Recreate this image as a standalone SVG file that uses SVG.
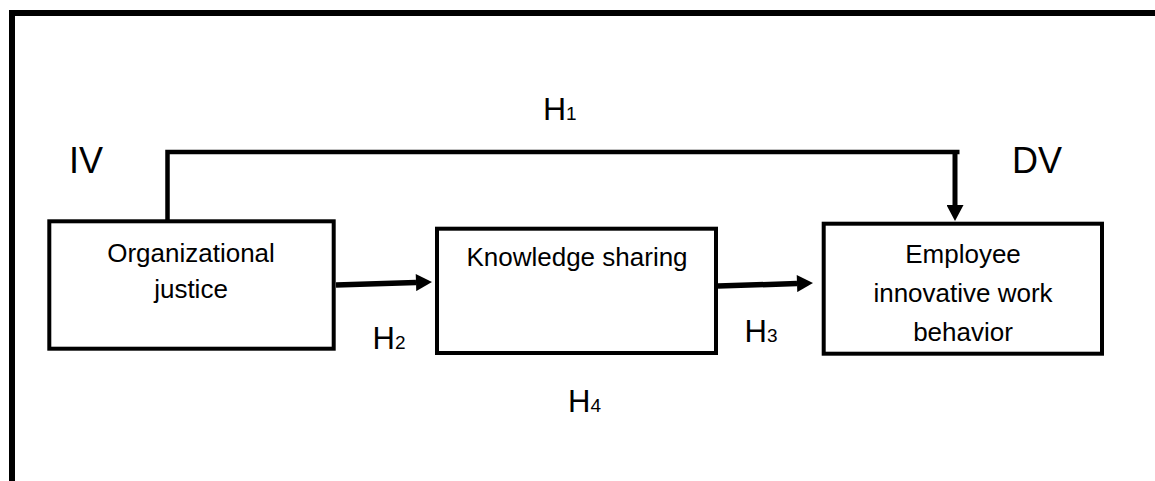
<svg xmlns="http://www.w3.org/2000/svg" width="1155" height="481" viewBox="0 0 1155 481">
<style>
.box{fill:#fff;stroke:#000;stroke-width:4}
.t{font-family:"Liberation Sans",Arial,sans-serif;font-size:26px;fill:#000;text-anchor:middle}
.lbl{font-family:"Liberation Sans",Arial,sans-serif;fill:#000}
.sub{font-size:19px}
.ln{fill:none;stroke:#000}
</style>
<defs>
<marker id="ah" markerUnits="userSpaceOnUse" markerWidth="17" markerHeight="17" refX="0" refY="8.5" orient="auto" viewBox="0 0 16 17">
<path d="M0,0 L16,8.5 L0,17 z" fill="#000"/>
</marker>
</defs>
<rect width="1155" height="481" fill="#fff"/>
<path class="ln" d="M12,481 V13 H1155" stroke-width="6"/>
<g id="connectors">
<path class="ln" d="M167.5,221 V152 H959.5" stroke-width="4.5"/>
<path class="ln" d="M955,150 V205" stroke-width="5" marker-end="url(#ah)"/>
<path class="ln" d="M336,285 L416,282.6" stroke-width="5.5" marker-end="url(#ah)"/>
<path class="ln" d="M718,286 L797,283.6" stroke-width="5.5" marker-end="url(#ah)"/>
</g>
<g id="node-oj">
<rect class="box" x="49.3" y="221.3" width="284.4" height="127.4"/>
<text class="t" x="191" y="262">Organizational</text>
<text class="t" x="191" y="298">justice</text>
</g>
<g id="node-ks">
<rect class="box" x="437" y="228.7" width="279" height="124.3"/>
<text class="t" x="577" y="266">Knowledge sharing</text>
</g>
<g id="node-eiwb">
<rect class="box" x="823.7" y="223.7" width="278.3" height="130"/>
<text class="t" x="963" y="263">Employee</text>
<text class="t" x="963" y="302">innovative work</text>
<text class="t" x="963" y="341">behavior</text>
</g>
<g id="labels">
<text class="lbl" x="69" y="173" font-size="36">IV</text>
<text class="lbl" x="1012" y="173" font-size="36">DV</text>
<text class="lbl" x="543" y="120" font-size="32">H<tspan class="sub">1</tspan></text>
<text class="lbl" x="372.5" y="349" font-size="31">H<tspan class="sub">2</tspan></text>
<text class="lbl" x="744.5" y="342" font-size="31">H<tspan class="sub">3</tspan></text>
<text class="lbl" x="568" y="411.5" font-size="31">H<tspan class="sub">4</tspan></text>
</g>
</svg>
